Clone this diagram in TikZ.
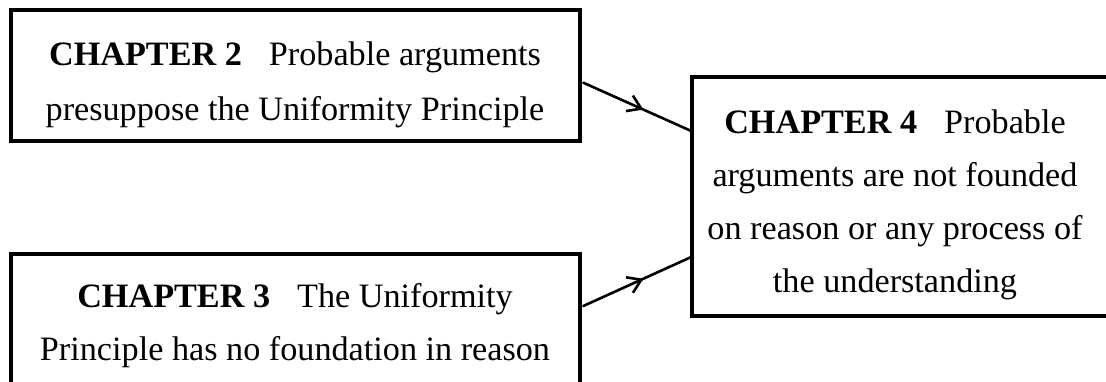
\documentclass[tikz,border=0pt]{standalone}
\usepackage{fontspec}
\setmainfont{Liberation Serif}
\usetikzlibrary{arrows.meta,decorations.markings}

\begin{document}
\begin{tikzpicture}[x=1pt,y=-1pt,
  chapbox/.style={draw=black, line width=4pt, rectangle, inner sep=0pt, outer sep=0pt},
  txt/.style={anchor=base, inner sep=0pt, font=\fontsize{34.2}{40}\selectfont},
  conn/.style={line width=2.6pt, line cap=round,
    decoration={markings, mark=at position 0.56 with {\arrow{Straight Barb[length=13pt,width=17pt,line width=2.6pt]}}},
    postaction={decorate}},
]
\useasboundingbox (0,0) rectangle (1106,381);
\clip (-5,-5) rectangle (1106,381);

% the three chapter boxes
\node[chapbox, minimum width=569.5pt, minimum height=131pt] (b2) at (295.25,75.5) {};
\node[chapbox, minimum width=569.5pt, minimum height=131pt] (b3) at (295.25,319.5) {};
\node[chapbox, minimum width=700pt, minimum height=239.5pt] (b4) at (1042,196.25) {};

% box texts, one node per line
\node[txt] (t2a) at (295,65) {\textbf{CHAPTER 2}\hspace{27pt}Probable arguments};
\node[txt] (t2b) at (295,120) {presuppose the Uniformity Principle};

\node[txt] (t3a) at (295,307) {\textbf{CHAPTER 3}\hspace{27pt}The Uniformity};
\node[txt] (t3b) at (295,360) {Principle has no foundation in reason};

\node[txt] (t4a) at (895,133) {\textbf{CHAPTER 4}\hspace{27pt}Probable};
\node[txt] (t4b) at (895,186) {arguments are not founded};
\node[txt] (t4c) at (895,239) {on reason or any process of};
\node[txt] (t4d) at (895,292) {the understanding};

% connectors
\draw[conn] ([xshift=3.3pt,yshift=-7.2pt]b2.east) -- ([xshift=-1.3pt,yshift=65.5pt]b4.west);
\draw[conn] ([xshift=3.3pt,yshift=13.5pt]b3.east) -- ([xshift=-1.3pt,yshift=-61pt]b4.west);
\end{tikzpicture}
\end{document}
